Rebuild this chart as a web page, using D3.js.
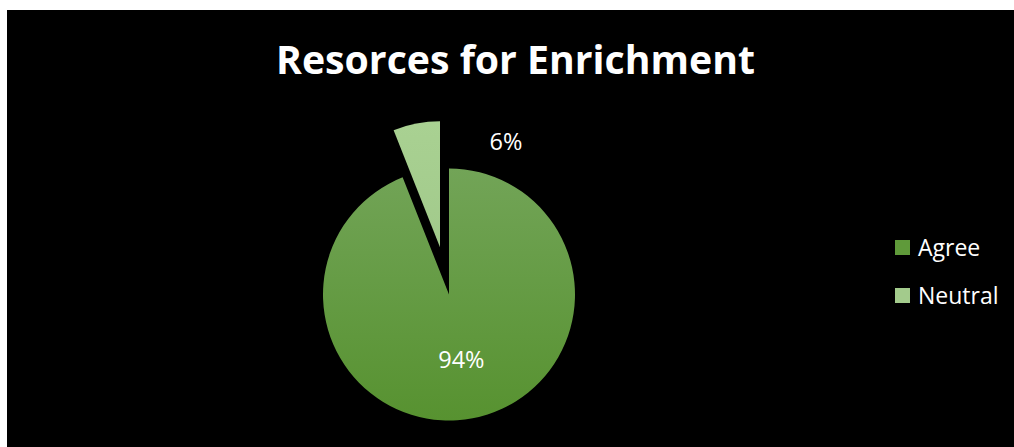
<!DOCTYPE html>
<html><head><meta charset="utf-8">
<script src="https://cdn.jsdelivr.net/npm/d3@7"></script>
<style>html,body{margin:0;padding:0;background:#fff;}svg{display:block;}</style>
</head><body>
<script>
const categories = ["Agree", "Neutral"];
const values = [94, 6];
const labels = ["94%", "6%"];
const title = "Resorces for Enrichment";

const W = 1014, H = 447;
const svg = d3.select("body").append("svg").attr("width", W).attr("height", H);
svg.append("rect").attr("x",0).attr("y",0).attr("width",W).attr("height",H).attr("fill","#fff");
svg.append("rect").attr("x",7).attr("y",10).attr("width",W-7).attr("height",H-10).attr("fill","#000");

const cx = 449, cy = 294.5, r = 126;
const defs = svg.append("defs");
const grads = [["#72a457","#579230"],["#a9d192","#9ac384"]];
grads.forEach((g,i)=>{
  const lg = defs.append("linearGradient").attr("id","g"+i)
    .attr("gradientUnits","userSpaceOnUse").attr("x1",0).attr("y1",-r).attr("x2",0).attr("y2",r);
  lg.append("stop").attr("offset","0%").attr("stop-color",g[0]);
  lg.append("stop").attr("offset","100%").attr("stop-color",g[1]);
});
const color = d3.scaleOrdinal().domain(categories).range(["url(#g0)","url(#g1)"]);
const legendColor = d3.scaleOrdinal().domain(categories).range(["#5f9a3a","#a3cb8c"]);

const pie = d3.pie().sort(null).value(d=>d.v);
const data = pie(categories.map((c,i)=>({c, v: values[i], l: labels[i]})));
const arc = d3.arc().innerRadius(0).outerRadius(r);
const explode = [0, 48];

const g = svg.append("g").attr("transform",`translate(${cx},${cy})`);
data.forEach((d,i)=>{
  const mid = (d.startAngle+d.endAngle)/2;
  const dx = Math.sin(mid)*explode[i], dy = -Math.cos(mid)*explode[i];
  const sg = g.append("g").attr("transform",`translate(${dx},${dy})`);
  sg.append("path").attr("d",arc(d)).attr("fill",color(d.data.c));
});

// labels
const labelPos = [
  (d)=>{const m=(d.startAngle+d.endAngle)/2; return [Math.sin(m)*66, -Math.cos(m)*66];},
  (d)=>[57,-153]
];
data.forEach((d,i)=>{
  const p = labelPos[i](d);
  g.append("text").attr("x",p[0]).attr("y",p[1]).attr("dy","0.35em")
    .attr("text-anchor","middle").attr("fill","#fff")
    .attr("font-family","'Open Sans', sans-serif").attr("font-size",23.5)
    .text(d.data.l);
});

// title
const t = svg.append("text").attr("x",515.5).attr("y",74).attr("text-anchor","middle")
  .attr("fill","#fff").attr("font-family","'Open Sans', sans-serif").attr("font-weight","bold")
  .attr("font-size",40).text(title);
const tw = t.node().getComputedTextLength();
t.attr("font-size", 40*479/tw);

// legend
const lg = svg.append("g").attr("transform","translate(895,240)");
categories.forEach((c,i)=>{
  const row = lg.append("g").attr("transform",`translate(0,${i*48})`);
  row.append("rect").attr("width",15).attr("height",15).attr("fill",legendColor(c));
  row.append("text").attr("x",23).attr("y",7.5).attr("dy","0.35em").attr("fill","#fff")
    .attr("font-family","'Open Sans', sans-serif").attr("font-size",23).text(c);
});
</script>
</body></html>
